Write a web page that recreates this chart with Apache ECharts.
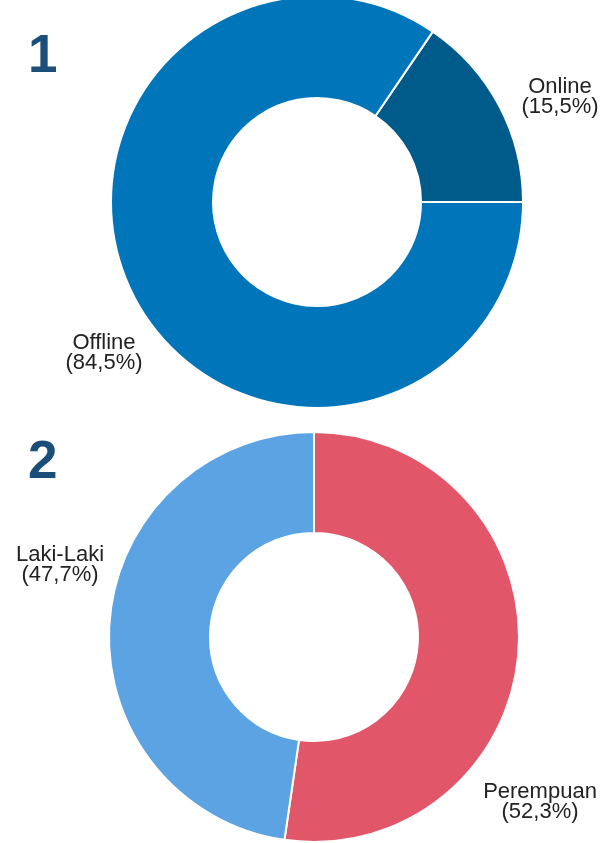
<!DOCTYPE html>
<html>
<head>
<meta charset="utf-8">
<script src="https://cdn.jsdelivr.net/npm/echarts@6/dist/echarts.min.js"></script>
<style>
  html, body { margin: 0; padding: 0; background: #fff; }
  #chart { width: 613px; height: 843px; }
</style>
</head>
<body>
<div id="chart"></div>
<script>
var channelNames = ['Online', 'Offline']
var channelValues = [15.5, 84.5]
var genderNames = ['Perempuan', 'Laki-Laki']
var genderValues = [52.3, 47.7]

var channelColors = ['#005A8A', '#0075B9']
var genderColors = ['#E2566A', '#5CA3E3']

function pct(p) {
  return p.name + '\n(' + String(p.value).replace('.', ',') + '%)'
}

var labelStyle = {
  show: true,
  formatter: pct,
  fontFamily: 'Liberation Sans, Arial, sans-serif',
  fontSize: 22,
  lineHeight: 20,
  color: '#222',
  align: 'center',
  overflow: 'none',
  width: 200
}

// label spots (label centre) per slice
var channelLabelPos = [[560, 97], [104, 353]]
var genderLabelPos = [[540, 802], [60, 565]]

var chart = echarts.init(document.getElementById('chart'))
var option = {
  animation: false,
  graphic: [
    { type: 'text', left: 28, top: 31, style: { text: '1', font: 'bold 53px Liberation Sans, Arial', fill: '#1B4F7A' } },
    { type: 'text', left: 28, top: 437, style: { text: '2', font: 'bold 53px Liberation Sans, Arial', fill: '#1B4F7A' } }
  ],
  series: [
    {
      type: 'pie',
      center: [317, 202],
      radius: [104, 206],
      startAngle: channelValues[0] * 3.6,
      clockwise: true,
      itemStyle: { borderColor: '#fff', borderWidth: 2 },
      label: labelStyle,
      labelLine: { show: false },
      labelLayout: function (params) {
        var p = channelLabelPos[params.dataIndex]
        return { x: p[0], y: p[1], align: 'center', verticalAlign: 'middle' }
      },
      data: channelNames.map(function (n, i) {
        return { name: n, value: channelValues[i], itemStyle: { color: channelColors[i] } }
      })
    },
    {
      type: 'pie',
      center: [314, 637],
      radius: [104, 205],
      startAngle: 90,
      clockwise: true,
      itemStyle: { borderColor: '#fff', borderWidth: 2 },
      label: labelStyle,
      labelLine: { show: false },
      labelLayout: function (params) {
        var p = genderLabelPos[params.dataIndex]
        return { x: p[0], y: p[1], align: 'center', verticalAlign: 'middle' }
      },
      data: genderNames.map(function (n, i) {
        return { name: n, value: genderValues[i], itemStyle: { color: genderColors[i] } }
      })
    }
  ]
}
chart.setOption(option)
</script>
</body>
</html>
